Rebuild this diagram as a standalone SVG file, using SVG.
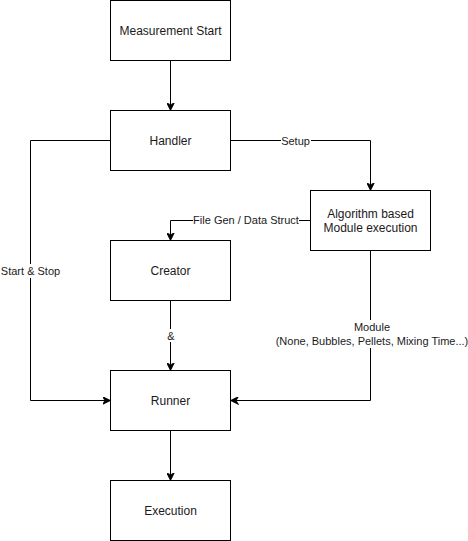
<svg xmlns="http://www.w3.org/2000/svg" width="468" height="541" viewBox="0 0 468 541">
<style>
.box{fill:#fff;stroke:#000;stroke-width:1}
.t{font-family:"Liberation Sans",Arial,sans-serif;font-size:12px;fill:#1a1a1a;text-anchor:middle;dominant-baseline:central}
.e{fill:none;stroke:#000;stroke-width:1}
.lbl{font-family:"Liberation Sans",Arial,sans-serif;font-size:11px;fill:#1a1a1a;text-anchor:middle;dominant-baseline:central}
</style>
<defs>
<marker id="arr" viewBox="0 0 10 10" refX="10" refY="5" markerWidth="8" markerHeight="8" markerUnits="userSpaceOnUse" orient="auto">
<path d="M0,0 L10,5 L0,10 L3,5 Z" fill="#000" stroke="#000" stroke-width="1"/>
</marker>
</defs>
<rect width="468" height="541" fill="#fff"/>
<g id="connectors">
<path class="e" d="M170.5,60.5 V110.5" marker-end="url(#arr)"/>
<path class="e" d="M110.5,140.5 H30.5 V400.5 H110.5" marker-end="url(#arr)"/>
<path class="e" d="M230.5,140.5 H370.5 V190.5" marker-end="url(#arr)"/>
<path class="e" d="M310.5,220.5 H170.5 V240.5" marker-end="url(#arr)"/>
<path class="e" d="M170.5,300.5 V370.5" marker-end="url(#arr)"/>
<path class="e" d="M370.5,250.5 V400.5 H230.5" marker-end="url(#arr)"/>
<path class="e" d="M170.5,430.5 V480.5" marker-end="url(#arr)"/>
<rect x="2" y="264" width="57" height="14" fill="#fff"/>
<text class="lbl" x="30.5" y="271">Start &amp; Stop</text>
<rect x="281" y="134" width="30" height="13" fill="#fff"/>
<text class="lbl" x="295.5" y="140.5">Setup</text>
<rect x="193" y="214" width="106" height="13" fill="#fff"/>
<text class="lbl" x="246" y="220">File Gen / Data Struct</text>
<rect x="165" y="329" width="11" height="13" fill="#fff"/>
<text class="lbl" x="171" y="336">&amp;</text>
<rect x="276" y="320" width="190" height="28" fill="#fff"/>
<text class="lbl" x="372" y="327">Module</text>
<text class="lbl" x="372" y="341">(None, Bubbles, Pellets, Mixing Time...)</text>
</g>
<g id="measurement-start"><rect class="box" x="110.5" y="0.5" width="120" height="60"/><text class="t" x="170.5" y="30.5">Measurement Start</text></g>
<g id="handler"><rect class="box" x="110.5" y="110.5" width="120" height="60"/><text class="t" x="170.5" y="140.5">Handler</text></g>
<g id="algorithm"><rect class="box" x="310.5" y="190.5" width="120" height="60"/><text class="t" x="370.5" y="213.5">Algorithm based</text><text class="t" x="370.5" y="227.5">Module execution</text></g>
<g id="creator"><rect class="box" x="110.5" y="240.5" width="120" height="60"/><text class="t" x="170.5" y="270.5">Creator</text></g>
<g id="runner"><rect class="box" x="110.5" y="370.5" width="120" height="60"/><text class="t" x="170.5" y="400.5">Runner</text></g>
<g id="execution"><rect class="box" x="110.5" y="480.5" width="120" height="60"/><text class="t" x="170.5" y="510.5">Execution</text></g>
</svg>
